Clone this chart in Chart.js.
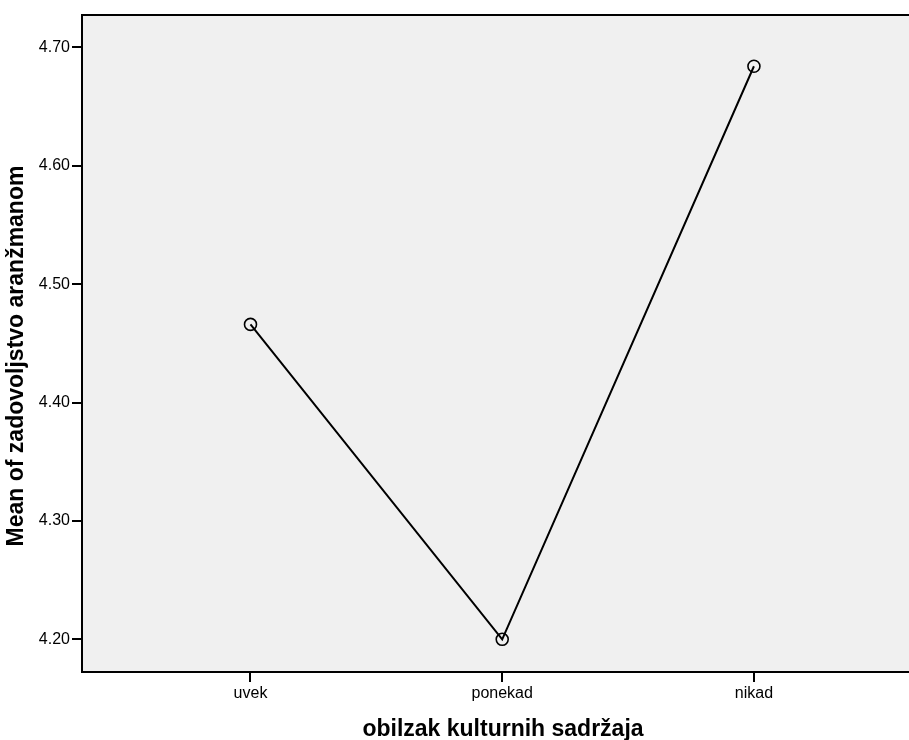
<!DOCTYPE html>
<html>
<head>
<meta charset="utf-8">
<script src="https://cdn.jsdelivr.net/npm/chart.js@4.4.1/dist/chart.umd.min.js"></script>
<style>
  html, body { margin: 0; padding: 0; background: #fff; overflow: hidden; }
  #wrap { width: 922px; height: 740px; }
</style>
</head>
<body>
<div id="wrap"><canvas id="meanChart" width="922" height="740"></canvas></div>
<script>
// values
const categories = ['uvek', 'ponekad', 'nikad'];
const means = [4.466, 4.200, 4.684];
const yTicks = [4.20, 4.30, 4.40, 4.50, 4.60, 4.70];

const xTitle = 'obilzak kulturnih sadržaja';
const yTitle = 'Mean of zadovoljstvo aranžmanom';

const FONT = '"Liberation Sans", Arial, sans-serif';

const points = means.map((m, i) => ({ x: i + 1, y: m }));

// grey plot background + top frame line
const plotBg = {
  id: 'plotBg',
  beforeDraw(chart) {
    const a = chart.chartArea;
    const ctx = chart.ctx;
    ctx.save();
    ctx.fillStyle = '#f0f0f0';
    ctx.fillRect(a.left, a.top, a.right - a.left, a.bottom - a.top);
    ctx.strokeStyle = '#000';
    ctx.lineWidth = 2;
    ctx.beginPath();
    ctx.moveTo(a.left, a.top);
    ctx.lineTo(a.right, a.top);
    ctx.stroke();
    ctx.restore();
  }
};

// axis titles drawn by hand to match the SPSS placement
const axisTitles = {
  id: 'axisTitles',
  afterDraw(chart) {
    const ctx = chart.ctx;
    ctx.save();
    ctx.fillStyle = '#000';
    ctx.font = 'bold 23px ' + FONT;
    ctx.textAlign = 'center';
    ctx.textBaseline = 'middle';
    ctx.fillText(xTitle, 503, 730);
    ctx.translate(17, 356);
    ctx.rotate(-Math.PI / 2);
    ctx.fillText(yTitle, 0, 0);
    ctx.restore();
  }
};

new Chart(document.getElementById('meanChart'), {
  type: 'line',
  data: {
    datasets: [{
      data: points,
      borderColor: '#000',
      borderWidth: 2,
      tension: 0,
      pointRadius: 6,
      pointHoverRadius: 6,
      pointBorderWidth: 1.6,
      pointBorderColor: '#000',
      pointBackgroundColor: 'rgba(0,0,0,0)'
    }]
  },
  options: {
    responsive: false,
    devicePixelRatio: 1,
    animation: false,
    layout: { padding: { top: 15, left: 0, right: 0, bottom: 0 } },
    plugins: {
      legend: { display: false },
      tooltip: { enabled: false }
    },
    scales: {
      x: {
        type: 'linear',
        min: 0.3306,
        max: 3.6375,
        afterBuildTicks: s => { s.ticks = categories.map((c, i) => ({ value: i + 1 })); },
        afterFit: s => { s.height = 68; },
        ticks: {
          color: '#000',
          font: { family: FONT, size: 16 },
          padding: 2,
          maxRotation: 0,
          callback: v => categories[v - 1]
        },
        grid: { drawOnChartArea: false, tickLength: 10, color: '#000', lineWidth: 2 },
        border: { display: true, color: '#000', width: 2 }
      },
      y: {
        min: 4.1724,
        max: 4.7273,
        afterBuildTicks: s => { s.ticks = yTicks.map(v => ({ value: v })); },
        afterFit: s => { s.width = 82; },
        ticks: {
          color: '#000',
          font: { family: FONT, size: 16 },
          padding: 2,
          callback: v => v.toFixed(2)
        },
        grid: { drawOnChartArea: false, tickLength: 10, color: '#000', lineWidth: 2 },
        border: { display: true, color: '#000', width: 2 }
      }
    }
  },
  plugins: [plotBg, axisTitles]
});
</script>
</body>
</html>
